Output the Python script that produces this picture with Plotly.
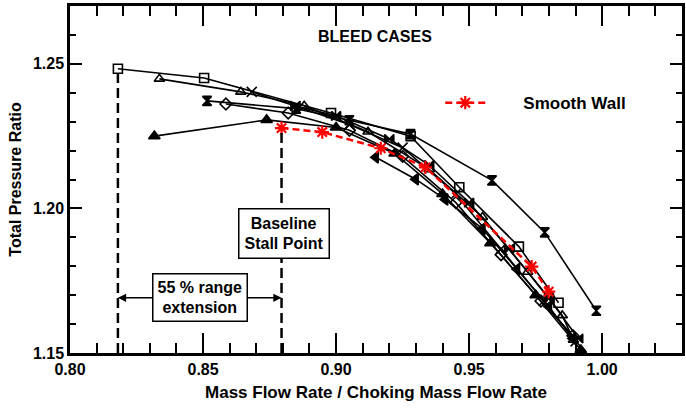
import plotly.graph_objects as go

# ---- data ----
sq_x = [0.818, 0.8504, 0.8981, 0.9280, 0.9463, 0.9687, 0.9836]
sq_y = [1.2483, 1.2451, 1.2330, 1.2250, 1.2073, 1.1868, 1.1674]

tro_x = [0.8336, 0.8642, 0.888, 0.912, 0.935, 0.955, 0.972, 0.985, 0.9892]
tro_y = [1.2448, 1.2403, 1.2355, 1.2265, 1.2135, 1.197, 1.178, 1.163, 1.1545]

xx_x = [0.8683, 0.8847, 0.905, 0.925, 0.945, 0.962, 0.978, 0.990]
xx_y = [1.2403, 1.2354, 1.229, 1.221, 1.205, 1.186, 1.168, 1.154]

hg_x = [0.8515, 0.885, 0.905, 0.928, 0.9586, 0.9784, 0.9978]
hg_y = [1.2372, 1.2345, 1.2305, 1.2257, 1.2097, 1.1917, 1.1646]

dm_x = [0.8586, 0.882, 0.905, 0.925, 0.945, 0.962, 0.977, 0.989]
dm_y = [1.2361, 1.233, 1.227, 1.218, 1.202, 1.184, 1.168, 1.156]

trf_x = [0.8317, 0.8739, 0.900, 0.922, 0.940, 0.958, 0.975, 0.992]
trf_y = [1.2250, 1.2306, 1.228, 1.219, 1.205, 1.188, 1.170, 1.151]

tl_x = [0.9149, 0.9299, 0.9410, 0.955, 0.968, 0.980, 0.989]
tl_y = [1.2177, 1.2101, 1.2031, 1.193, 1.179, 1.166, 1.155]

bt_x = [0.8847, 0.900, 0.920, 0.935, 0.950, 0.965, 0.980, 0.991]
bt_y = [1.2354, 1.232, 1.224, 1.215, 1.202, 1.186, 1.169, 1.155]

sw_x = [0.8795, 0.8948, 0.9168, 0.9336, 0.9735, 0.9799]
sw_y = [1.2278, 1.2264, 1.2208, 1.2142, 1.1799, 1.1712]

x_ticks = [0.80, 0.85, 0.90, 0.95, 1.00]
y_ticks = [1.15, 1.20, 1.25]

FONT = "Liberation Sans"

fig = go.Figure()

black_series = [
    (sq_x, sq_y, "square-open", 9),
    (tro_x, tro_y, "triangle-up-open", 9),
    (xx_x, xx_y, "x-thin-open", 10),
    (hg_x, hg_y, "hourglass", 9),
    (dm_x, dm_y, "diamond-open", 9),
    (trf_x, trf_y, "triangle-up", 10),
    (tl_x, tl_y, "triangle-left", 10),
    (bt_x, bt_y, "bowtie", 9),
]
for xs, ys, sym, sz in black_series:
    fig.add_trace(go.Scatter(
        x=xs, y=ys, mode="lines+markers", showlegend=False,
        line=dict(color="black", width=1.6),
        marker=dict(symbol=sym, size=sz, color="black",
                    line=dict(color="black", width=1.6)),
    ))

fig.add_trace(go.Scatter(
    x=sw_x, y=sw_y, mode="lines+markers",
    name="\u00a0" * 7 + "Smooth Wall",
    line=dict(color="red", width=2.5, dash="7px,4px"),
    marker=dict(symbol="asterisk-open", size=11, color="red",
                line=dict(color="red", width=2.2)),
))

# vertical dashed lines (stall points)
for vx, vy in [(sq_x[0], sq_y[0]), (sw_x[0], sw_y[0])]:
    fig.add_shape(type="line", x0=vx, x1=vx, y0=1.15, y1=vy - 0.0015,
                  xref="x", yref="y",
                  line=dict(color="black", width=2.5, dash="10px,5px"))

arrow_y = 1.1691
box_cx = 0.8489
# arrows from box to the two stall lines
for tx in [sq_x[0], sw_x[0]]:
    fig.add_annotation(x=tx, y=arrow_y, ax=box_cx, ay=arrow_y,
                       xref="x", yref="y", axref="x", ayref="y",
                       text="", showarrow=True, arrowhead=2, arrowsize=1.1,
                       arrowwidth=1.5, arrowcolor="black", standoff=0,
                       startstandoff=0)

fig.add_annotation(x=box_cx, y=arrow_y, xref="x", yref="y",
                   text="55 % range<br>extension", showarrow=False,
                   font=dict(family=FONT, size=16, color="black", weight="bold"),
                   bgcolor="white", bordercolor="black", borderwidth=1.5,
                   borderpad=4)

fig.add_annotation(x=0.8806, y=1.1913, xref="x", yref="y",
                   text="Baseline<br>Stall Point", showarrow=False,
                   font=dict(family=FONT, size=16, color="black", weight="bold"),
                   bgcolor="white", bordercolor="black", borderwidth=1.5,
                   borderpad=5)

fig.add_annotation(x=0.9146, y=1.2594, xref="x", yref="y",
                   text="BLEED CASES", showarrow=False,
                   font=dict(family=FONT, size=16, color="black", weight="bold"))

axis_common = dict(
    showline=True, linecolor="black", linewidth=2.5, mirror="ticks",
    ticks="inside", tickcolor="black", tickwidth=2, showgrid=False,
    zeroline=False,
    tickfont=dict(family=FONT, size=16, color="black", weight="bold"),
)

fig.update_xaxes(
    range=[0.80, 1.03], tickvals=x_ticks,
    ticktext=[f"{v:.2f}" for v in x_ticks], ticklen=20,
    minor=dict(dtick=0.01, tick0=0.80, ticks="inside", ticklen=10,
               tickwidth=2, tickcolor="black", showgrid=False),
    title=dict(text="Mass Flow Rate / Choking Mass Flow Rate",
               font=dict(family=FONT, size=17, color="black", weight="bold"),
               standoff=10),
    **axis_common,
)
fig.update_yaxes(
    range=[1.15, 1.27], tickvals=y_ticks,
    ticktext=[f"{v:.2f}" for v in y_ticks], ticklen=12,
    minor=dict(dtick=0.01, tick0=1.15, ticks="inside", ticklen=6,
               tickwidth=2, tickcolor="black", showgrid=False),
    title=dict(text="Total Pressure Ratio",
               font=dict(family=FONT, size=16, color="black", weight="bold"),
               standoff=8),
    **axis_common,
)

fig.update_layout(
    width=686, height=408,
    margin=dict(l=70, r=1, t=6, b=55),
    plot_bgcolor="white", paper_bgcolor="white",
    showlegend=True,
    legend=dict(x=0.605, y=0.72, xanchor="left", yanchor="middle",
                bgcolor="rgba(0,0,0,0)", itemwidth=40,
                font=dict(family=FONT, size=17, color="black", weight="bold")),
)

fig.write_html("out.html")
